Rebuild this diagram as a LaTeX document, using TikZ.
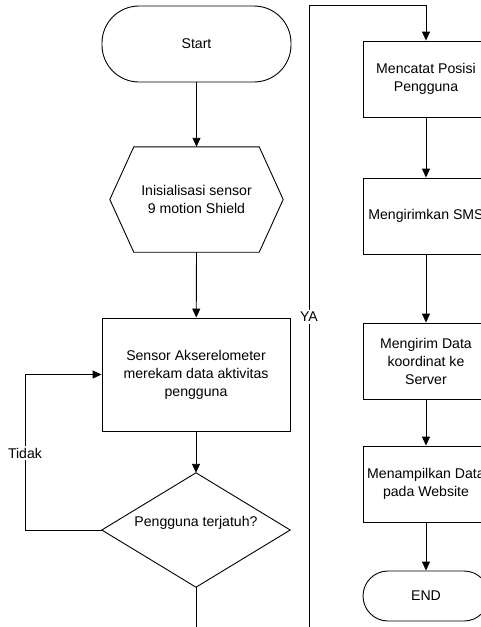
\documentclass[tikz,border=0pt]{standalone}
\usepackage{fontspec}
\setmainfont{Liberation Sans}
\usetikzlibrary{arrows.meta}
\begin{document}
\begin{tikzpicture}[x=1pt,y=-1pt,
  every node/.style={font=\fontsize{14.1pt}{18pt}\selectfont, align=center, inner sep=0pt},
  line/.style={draw=black, line width=0.9pt},
  flow/.style={line, -{Triangle[width=8pt,length=9pt]}},
  procbox/.style={line, rectangle},
  termbox/.style={line, rectangle, rounded corners=#1},
  ghost/.style={rectangle, draw=none},
  lbl/.style={fill=white, inner sep=2pt}]
  \useasboundingbox (0,0) rectangle (481,627);
  \clip (0,0) rectangle (481,627);

  % left column
  \node[termbox=37pt, minimum width=189pt, minimum height=76pt] (start) at (196.5,44) {Start};
  \node[ghost, minimum width=173pt, minimum height=105pt] (init) at (196.5,199.5) {Inisialisasi sensor\\9 motion Shield};
  \draw[line] ([xshift=24pt]init.north west) -- ([xshift=-24pt]init.north east) -- (init.east)
     -- ([xshift=-24pt]init.south east) -- ([xshift=24pt]init.south west) -- (init.west) -- cycle;
  \node[procbox, minimum width=188pt, minimum height=113pt] (sensor) at (196,374.5) {Sensor Akserelometer\\merekam data aktivitas\\pengguna};
  \node[ghost, minimum width=188pt, minimum height=114pt] (dec) at (196,530) {};
  \draw[line] (dec.north) -- (dec.east) -- (dec.south) -- (dec.west) -- cycle;
  \node (dectext) at (196,523) {Pengguna terjatuh?};

  % right column
  \node[procbox, minimum width=126pt, minimum height=76pt] (b1) at (426,79) {Mencatat Posisi\\Pengguna};
  \node[procbox, minimum width=126pt, minimum height=76pt] (b2) at (426,216) {Mengirimkan SMS};
  \node[procbox, minimum width=126pt, minimum height=76pt] (b3) at (426,361) {Mengirim Data\\koordinat ke\\Server};
  \node[procbox, minimum width=126pt, minimum height=76pt] (b4) at (426,484) {Menampilkan Data\\pada Website};
  \node[termbox=25pt, minimum width=126pt, minimum height=50pt] (fin) at (426,596) {END};

  % helper points
  \coordinate (tA) at (25,530);
  \coordinate (decout) at (196,640);
  \coordinate (yaB) at (309,640);
  \coordinate (yaT) at (309,5);
  \coordinate (yaR) at (426,5);

  % connectors
  \draw[flow] (start) -- (init.north);
  \draw[flow] (init.south) -- (sensor);
  \draw[flow] (sensor) -- (dec.north);
  \draw[flow] (dec.west) -- (tA) |- (sensor.west);
  \draw[line] (dec.south) -- (decout);
  \draw[flow] (yaB) -- (yaT) -- (yaR) -- (b1.north);
  \draw[flow] (b1) -- (b2);
  \draw[flow] (b2) -- (b3);
  \draw[flow] (b3) -- (b4);
  \draw[flow] (b4) -- (fin);

  % branch labels
  \node[lbl] (tidak) at (25,453) {Tidak};
  \node[lbl] (ya) at (309,317) {YA};
\end{tikzpicture}
\end{document}
